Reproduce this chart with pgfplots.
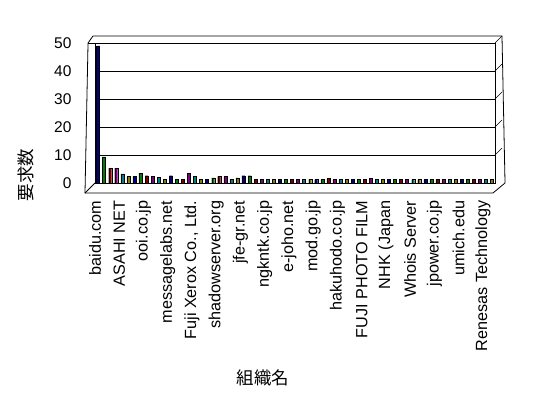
\documentclass[border=0pt]{standalone}
\usepackage{pgfplots}
\pgfplotsset{compat=1.18}
\usetikzlibrary{calc}
\usepackage{fontspec}
\setmainfont{Liberation Sans}
\newfontfamily\jp{Noto Sans CJK JP}
\definecolor{c0}{HTML}{000080}
\definecolor{c1}{HTML}{008000}
\definecolor{c2}{HTML}{800000}
\definecolor{c3}{HTML}{800080}
\definecolor{c4}{HTML}{008080}
\definecolor{c5}{HTML}{808000}
\begin{document}
\begin{tikzpicture}
\path[use as bounding box] (0,0) rectangle (548bp,398bp);
\begin{axis}[
  at={(95bp,215bp)}, anchor=south west,
  scale only axis, width=400bp, height=140bp,
  xmin=-0.5, xmax=65.5, ymin=0, ymax=50,
  ytick={0,10,...,50},
  ymajorgrids, grid style={black, line width=0.8pt},
  axis line style={black, line width=0.8pt},
  ytick style={draw=none},
  yticklabel style={xshift=-20bp, font=\fontsize{15.5bp}{17bp}\selectfont},
  xtick={0,4,...,64},
  xticklabels={baidu.com,ASAHI NET,ooi.co.jp,messagelabs.net,{Fuji Xerox Co., Ltd.},shadowserver.org,jfe-gr.net,ngkntk.co.jp,e-joho.net,mod.go.jp,hakuhodo.co.jp,FUJI PHOTO FILM,NHK (Japan,Whois Server,jpower.co.jp,umich.edu,Renesas Technology},
  xticklabel style={rotate=90, anchor=east, xshift=-2bp, yshift=3bp, font=\fontsize{16.2bp}{18bp}\selectfont},
  xticklabel shift=8bp,
  xtick style={draw=none},
  extra x ticks={-0.5,0.5,...,65.5},
  extra x tick labels={},
  extra x tick style={tick style={draw=black, line width=0.6pt}, major tick length=10bp, tick align=outside, grid=none},
  /pgf/number format/assume math mode=true,
  xlabel={\jp 組織名},
  xlabel style={at={(axis description cs:0.42,-1.39)}, anchor=center, font=\fontsize{17.5bp}{19bp}\selectfont},
  ylabel={\jp 要求数},
  ylabel style={at={(axis description cs:-0.172,0.057)}, anchor=center, font=\fontsize{17.5bp}{19bp}\selectfont},
  ybar, bar width=3bp, bar shift=0pt,
  every axis plot/.append style={draw=black, line width=0.3pt},
  clip=false,
]
\addplot[fill=c0] coordinates {(0,49) (6,2.4) (12,2.6) (18,1.4) (24,2.6) (30,1.2) (36,1.2) (42,1.2) (48,1.2) (54,1.2) (60,1.2)};
\addplot[fill=c1] coordinates {(1,9.3) (7,3.5) (13,1.4) (19,1.8) (25,2.6) (31,1.2) (37,1.2) (43,1.2) (49,1.4) (55,1.2) (61,1.2)};
\addplot[fill=c2] coordinates {(2,5.3) (8,2.6) (14,1.4) (20,2.4) (26,1.2) (32,1.4) (38,1.6) (44,1.2) (50,1.2) (56,1.2) (62,1.2)};
\addplot[fill=c3] coordinates {(3,5.3) (9,2.4) (15,3.5) (21,2.4) (27,1.4) (33,1.2) (39,1.2) (45,1.6) (51,1.2) (57,1.2) (63,1.2)};
\addplot[fill=c4] coordinates {(4,3.3) (10,2.0) (16,2.4) (22,1.2) (28,1.2) (34,1.2) (40,1.2) (46,1.2) (52,1.2) (58,1.2) (64,1.2)};
\addplot[fill=c5] coordinates {(5,2.4) (11,1.4) (17,1.4) (23,1.8) (29,1.4) (35,1.4) (41,1.4) (47,1.2) (53,1.2) (59,1.2) (65,1.2)};
% 3D-like outer frame
\draw[black, line width=0.8pt]
  ($(rel axis cs:0,1)+(-10bp,0)$) -- ($(rel axis cs:0,0)+(-10bp,-10bp)$)
  -- ($(rel axis cs:1,0)+(-2bp,-10bp)$) -- ($(rel axis cs:1,0)+(7bp,0)$)
  -- ($(rel axis cs:1,1)+(7bp,7bp)$) -- ($(rel axis cs:0,1)+(-2bp,7bp)$) -- cycle;
\draw[black, line width=0.8pt] ($(rel axis cs:0,1)+(-10bp,0)$) -- (rel axis cs:0,1);
\draw[black, line width=0.8pt] ($(rel axis cs:0,0)+(-10bp,-10bp)$) -- (rel axis cs:0,0);
\draw[black, line width=0.6pt] (rel axis cs:1,0.2) -- ++(7bp,7bp);
\draw[black, line width=0.6pt] (rel axis cs:1,0.4) -- ++(7bp,7bp);
\draw[black, line width=0.6pt] (rel axis cs:1,0.6) -- ++(7bp,7bp);
\draw[black, line width=0.6pt] (rel axis cs:1,0.8) -- ++(7bp,7bp);
\draw[black, line width=0.6pt] (rel axis cs:1,1) -- ++(7bp,7bp);
\end{axis}
\end{tikzpicture}
\end{document}
